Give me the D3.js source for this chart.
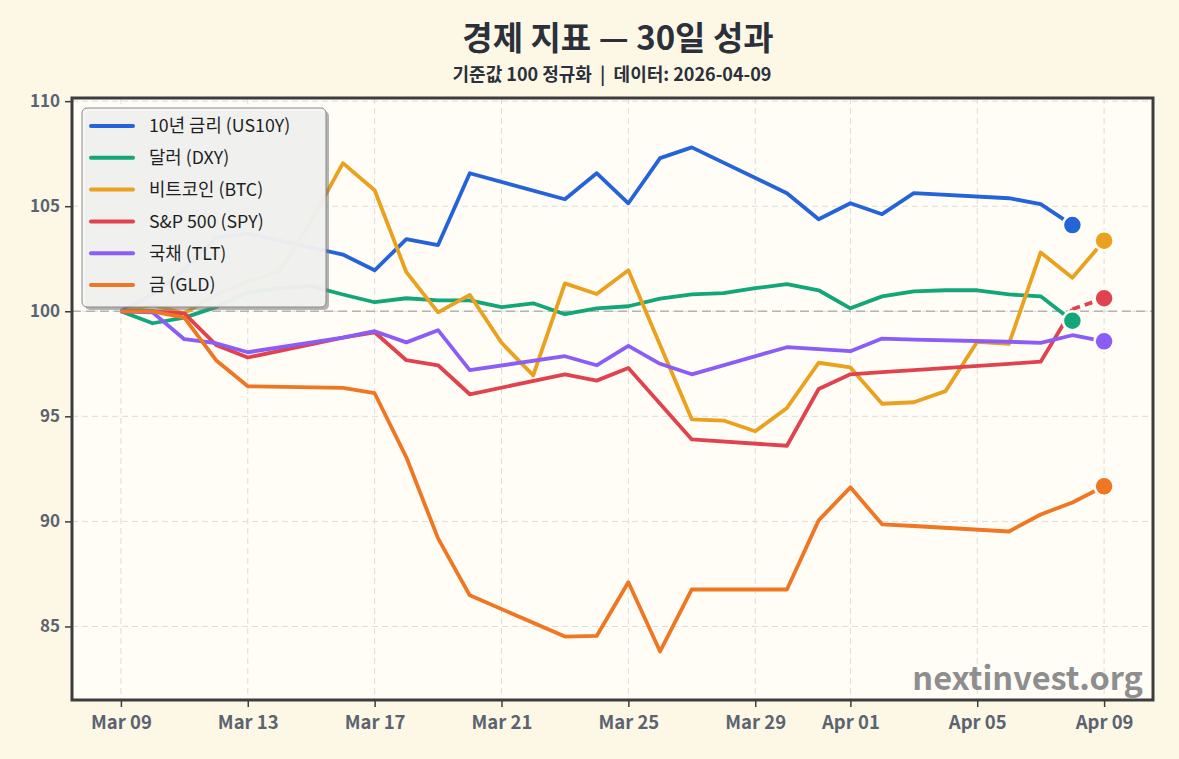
<!DOCTYPE html>
<html>
<head>
<meta charset="utf-8">
<script src="https://cdn.jsdelivr.net/npm/d3@7"></script>
<style>
  body { margin: 0; background: #fdf7e6; }
  svg { display: block; font-family: "Noto Sans CJK KR", "Noto Sans", sans-serif; }
</style>
</head>
<body>
<div id="chart"></div>
<script>
// series names / legend labels
var seriesNames = ['10년 금리 (US10Y)', '달러 (DXY)', '비트코인 (BTC)', 'S&P 500 (SPY)', '국채 (TLT)', '금 (GLD)'];

// normalized values, [date, value]
var us10y = [['2026-03-09',100],['2026-03-10',100.8],['2026-03-11',102.0],['2026-03-12',103.5],['2026-03-13',103.7],
  ['2026-03-16',102.7],['2026-03-17',101.95],['2026-03-18',103.43],['2026-03-19',103.15],['2026-03-20',106.57],
  ['2026-03-23',105.33],['2026-03-24',106.57],['2026-03-25',105.14],['2026-03-26',107.29],['2026-03-27',107.8],
  ['2026-03-30',105.62],['2026-03-31',104.38],['2026-04-01',105.14],['2026-04-02',104.62],['2026-04-03',105.62],
  ['2026-04-06',105.38],['2026-04-07',105.1],['2026-04-08',104.1]];

var dxy = [['2026-03-09',100],['2026-03-10',99.43],['2026-03-11',99.7],['2026-03-12',100.2],['2026-03-13',100.9],
  ['2026-03-14',101.1],['2026-03-15',101.2],['2026-03-16',100.8],['2026-03-17',100.43],['2026-03-18',100.62],
  ['2026-03-19',100.52],['2026-03-20',100.52],['2026-03-21',100.2],['2026-03-22',100.38],['2026-03-23',99.86],
  ['2026-03-24',100.14],['2026-03-25',100.24],['2026-03-26',100.6],['2026-03-27',100.8],['2026-03-28',100.86],
  ['2026-03-29',101.1],['2026-03-30',101.29],['2026-03-31',101.0],['2026-04-01',100.14],['2026-04-02',100.71],
  ['2026-04-03',100.95],['2026-04-04',101.0],['2026-04-05',101.0],['2026-04-06',100.8],['2026-04-07',100.71],
  ['2026-04-08',99.55]];

var btc = [['2026-03-09',100],['2026-03-10',100.3],['2026-03-11',99.9],['2026-03-12',100.8],['2026-03-13',101.4],
  ['2026-03-14',101.9],['2026-03-15',104.3],['2026-03-16',107.05],['2026-03-17',105.76],['2026-03-18',101.86],
  ['2026-03-19',99.95],['2026-03-20',100.78],['2026-03-21',98.5],['2026-03-22',96.95],['2026-03-23',101.33],
  ['2026-03-24',100.82],['2026-03-25',101.95],['2026-03-26',98.4],['2026-03-27',94.86],['2026-03-28',94.8],
  ['2026-03-29',94.29],['2026-03-30',95.4],['2026-03-31',97.55],['2026-04-01',97.33],['2026-04-02',95.6],
  ['2026-04-03',95.67],['2026-04-04',96.2],['2026-04-05',98.55],['2026-04-06',98.45],['2026-04-07',102.8],
  ['2026-04-08',101.6],['2026-04-09',103.36]];

var spy = [['2026-03-09',100],['2026-03-10',100.0],['2026-03-11',99.9],['2026-03-12',98.4],['2026-03-13',97.8],
  ['2026-03-16',98.75],['2026-03-17',99.0],['2026-03-18',97.67],['2026-03-19',97.43],['2026-03-20',96.05],
  ['2026-03-23',97.0],['2026-03-24',96.7],['2026-03-25',97.3],['2026-03-26',95.6],['2026-03-27',93.9],
  ['2026-03-30',93.6],['2026-03-31',96.3],['2026-04-01',97.0],['2026-04-02',97.1],['2026-04-03',97.2],
  ['2026-04-06',97.5],['2026-04-07',97.6],['2026-04-08',100.1],['2026-04-09',100.62]];

var tlt = [['2026-03-09',100],['2026-03-10',99.95],['2026-03-11',98.67],['2026-03-12',98.48],['2026-03-13',98.05],
  ['2026-03-16',98.75],['2026-03-17',99.05],['2026-03-18',98.52],['2026-03-19',99.1],['2026-03-20',97.2],
  ['2026-03-23',97.86],['2026-03-24',97.43],['2026-03-25',98.35],['2026-03-26',97.5],['2026-03-27',97.0],
  ['2026-03-30',98.29],['2026-03-31',98.2],['2026-04-01',98.1],['2026-04-02',98.7],['2026-04-03',98.65],
  ['2026-04-06',98.55],['2026-04-07',98.5],['2026-04-08',98.86],['2026-04-09',98.57]];

var gld = [['2026-03-09',100],['2026-03-10',100.0],['2026-03-11',99.7],['2026-03-12',97.67],['2026-03-13',96.43],
  ['2026-03-16',96.35],['2026-03-17',96.1],['2026-03-18',93.05],['2026-03-19',89.19],['2026-03-20',86.48],
  ['2026-03-23',84.52],['2026-03-24',84.55],['2026-03-25',87.1],['2026-03-26',83.81],['2026-03-27',86.76],
  ['2026-03-30',86.76],['2026-03-31',90.05],['2026-04-01',91.62],['2026-04-02',89.86],['2026-04-03',89.78],
  ['2026-04-06',89.52],['2026-04-07',90.33],['2026-04-08',90.9],['2026-04-09',91.67]];

var xTicks = ['2026-03-09','2026-03-13','2026-03-17','2026-03-21','2026-03-25','2026-03-29','2026-04-01','2026-04-05','2026-04-09'];
var yTicks = [85, 90, 95, 100, 105, 110];

var colors = ['#2563d9', '#12a679', '#e9a11f', '#e0434f', '#8b5cf6', '#ef7622'];
// only SPY has its last step drawn dashed
var dashedLast = [false, false, false, true, false, false];

var width = 1179, height = 759;
var margin = {top: 98, right: 26, bottom: 59, left: 72};
var drawWidth = width - margin.left - margin.right;
var drawHeight = height - margin.top - margin.bottom;

var parse = d3.timeParse('%Y-%m-%d');
var allSeries = [us10y, dxy, btc, spy, tlt, gld].map(function(s) {
    return s.map(function(d) { return {date: parse(d[0]), value: d[1]}; });
});

var first = parse(xTicks[0]), last = parse(xTicks[xTicks.length - 1]);
var xScale = d3.scaleTime()
    .domain([d3.timeHour.offset(first, -37), d3.timeHour.offset(last, 37)])
    .range([0, drawWidth]);
var yScale = d3.scaleLinear().domain([81.5, 110.15]).range([drawHeight, 0]);

var svg = d3.select('#chart').append('svg')
    .attr('width', width)
    .attr('height', height);

svg.append('rect').attr('width', width).attr('height', height).attr('fill', '#fdf7e6');

// titles
svg.append('text')
    .attr('x', 618).attr('y', 50)
    .attr('text-anchor', 'middle')
    .attr('font-size', 33).attr('font-weight', 700)
    .attr('fill', '#2b303b')
    .text('경제 지표 — 30일 성과');

svg.append('text')
    .attr('x', 612).attr('y', 81)
    .attr('text-anchor', 'middle')
    .attr('font-size', 18).attr('font-weight', 700)
    .attr('fill', '#2b303b')
    .attr('xml:space', 'preserve')
    .text('기준값 100 정규화  |  데이터: 2026-04-09');

var g = svg.append('g').attr('transform', 'translate(' + margin.left + ',' + margin.top + ')');

g.append('rect')
    .attr('width', drawWidth).attr('height', drawHeight)
    .attr('fill', '#fffdf5');

// grid
g.append('g').selectAll('line').data(xTicks).enter().append('line')
    .attr('x1', function(d) { return xScale(parse(d)); })
    .attr('x2', function(d) { return xScale(parse(d)); })
    .attr('y1', 0).attr('y2', drawHeight)
    .attr('stroke', '#dcdcdc').attr('stroke-width', 1).attr('stroke-dasharray', '6,4');

g.append('g').selectAll('line').data(yTicks).enter().append('line')
    .attr('x1', 0).attr('x2', drawWidth)
    .attr('y1', function(d) { return yScale(d); })
    .attr('y2', function(d) { return yScale(d); })
    .attr('stroke', '#dcdcdc').attr('stroke-width', 1).attr('stroke-dasharray', '6,4');

// base 100 reference
g.append('line')
    .attr('x1', 0).attr('x2', drawWidth)
    .attr('y1', yScale(100)).attr('y2', yScale(100))
    .attr('stroke', '#b4b4b4').attr('stroke-width', 1.6).attr('stroke-dasharray', '9,5');

// lines
var line = d3.line()
    .x(function(d) { return xScale(d.date); })
    .y(function(d) { return yScale(d.value); });

allSeries.forEach(function(data, i) {
    var solid = dashedLast[i] ? data.slice(0, data.length - 1) : data;
    g.append('path')
        .attr('d', line(solid))
        .attr('fill', 'none')
        .attr('stroke', colors[i])
        .attr('stroke-width', 3.8)
        .attr('stroke-linejoin', 'round');
    if (dashedLast[i]) {
        g.append('path')
            .attr('d', line(data.slice(data.length - 2)))
            .attr('fill', 'none')
            .attr('stroke', colors[i])
            .attr('stroke-width', 3.8)
            .attr('stroke-dasharray', '8,5');
    }
});

// end dots
allSeries.forEach(function(data, i) {
    var d = data[data.length - 1];
    g.append('circle')
        .attr('cx', xScale(d.date)).attr('cy', yScale(d.value))
        .attr('r', 9.5)
        .attr('fill', colors[i])
        .attr('stroke', '#fffdf5').attr('stroke-width', 2.5);
});

// watermark
g.append('text')
    .attr('x', drawWidth - 10).attr('y', drawHeight - 10)
    .attr('text-anchor', 'end')
    .attr('font-size', 32.5).attr('font-weight', 700)
    .attr('fill', '#8e8e8e')
    .text('nextinvest.org');

// frame
g.append('rect')
    .attr('width', drawWidth).attr('height', drawHeight)
    .attr('fill', 'none').attr('stroke', '#3d3d3d').attr('stroke-width', 3);

// axes
var xAxis = d3.axisBottom(xScale)
    .tickValues(xTicks.map(parse))
    .tickFormat(d3.timeFormat('%b %d'))
    .tickSize(7).tickPadding(6);
var yAxis = d3.axisLeft(yScale)
    .tickValues(yTicks)
    .tickSize(7).tickPadding(5);

var xg = g.append('g').attr('transform', 'translate(0,' + drawHeight + ')').call(xAxis);
var yg = g.append('g').call(yAxis);
[xg, yg].forEach(function(a) {
    a.select('.domain').remove();
    a.selectAll('.tick line').attr('stroke', '#3d3d3d').attr('stroke-width', 1.5);
    a.selectAll('.tick text')
        .attr('font-family', '"Noto Sans CJK KR", sans-serif')
        .attr('font-weight', 700)
        .attr('fill', '#5c6370');
});
xg.selectAll('.tick text').attr('font-size', 18.5).attr('dy', '0.85em');
yg.selectAll('.tick text').attr('font-size', 17);

// legend
var legend = g.append('g').attr('transform', 'translate(10,10)');
legend.append('rect')
    .attr('x', 3).attr('y', 3).attr('width', 244).attr('height', 199).attr('rx', 5)
    .attr('fill', '#777').attr('fill-opacity', 0.55);
legend.append('rect')
    .attr('width', 244).attr('height', 199).attr('rx', 5)
    .attr('fill', '#f4f4f3').attr('fill-opacity', 0.93)
    .attr('stroke', '#8a8a8a').attr('stroke-width', 1);

var rows = legend.selectAll('.row').data(seriesNames).enter().append('g')
    .attr('class', 'row')
    .attr('transform', function(d, i) { return 'translate(0,' + (18 + i * 31.8) + ')'; });
rows.append('line')
    .attr('x1', 9).attr('x2', 51)
    .attr('stroke', function(d, i) { return colors[i]; })
    .attr('stroke-width', 4).attr('stroke-linecap', 'round');
rows.append('text')
    .attr('x', 67).attr('dy', '0.36em')
    .attr('font-size', 17.8)
    .attr('fill', '#1f1f1f')
    .text(function(d) { return d; });
</script>
</body>
</html>
